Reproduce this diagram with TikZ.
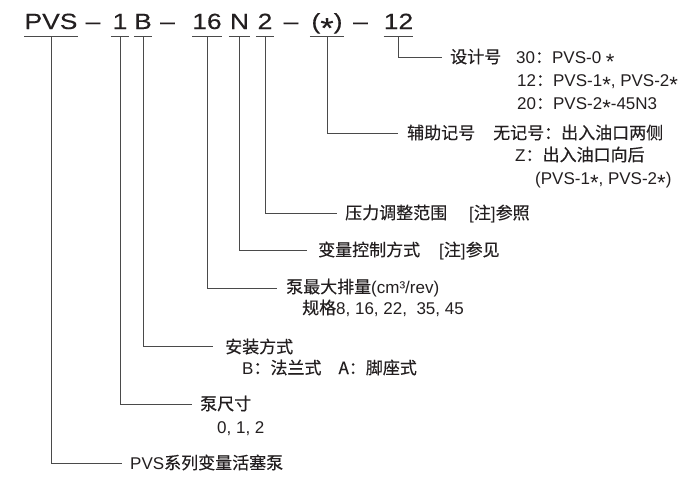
\documentclass[tikz,border=0pt]{standalone}
\usepackage{fontspec}
\setmainfont{Liberation Sans}
\newfontfamily\topfont[FakeStretch=1.2,FakeBold=0.3]{Liberation Sans}
\newfontfamily\cjk[FakeBold=0.3]{Noto Sans CJK SC}
\newcommand{\st}{\raisebox{-0.4em}{\scalebox{1.3}{*}}}
\definecolor{ink}{HTML}{231F20}
\definecolor{wirec}{HTML}{4A4A4A}
\begin{document}
\begin{tikzpicture}[x=1pt,y=-1pt,
  code/.style={anchor=base, inner xsep=0pt, inner ysep=0pt, text depth=7pt, text=ink,
    font=\fontsize{22}{22}\selectfont\topfont},
  lbl/.style={anchor=base west, inner sep=0pt, text=ink, font=\fontsize{17}{17}\selectfont},
  wire/.style={draw=wirec, line width=1pt}]
\fill[white] (0,0) rectangle (700,479);
\useasboundingbox (0,0) rectangle (700,479);
% code row
\node[code, minimum width=52pt] (cPVS) at (51,29) {PVS};
\node[code] (d1) at (93,29) {–};
\node[code, minimum width=18pt] (c1) at (120,29) {1};
\node[code, minimum width=18pt] (cB) at (143,29) {B};
\node[code] (d2) at (167.5,29) {–};
\node[code, minimum width=28pt] (c16) at (207,29) {16};
\node[code, minimum width=21pt] (cN) at (239.5,29) {N};
\node[code, minimum width=18pt] (c2) at (265,29) {2};
\node[code] (d3) at (291,29) {–};
\node[code, minimum width=34pt] (cS) at (327,29) {(\st)};
\node[code] (d4) at (360.5,29) {–};
\node[code, minimum width=29pt] (c12) at (398.5,29) {12};
\foreach \n in {cPVS,c1,cB,c16,cN,c2,cS,c12}
  \draw[wire] (\n.south west) -- (\n.south east);
% connector ends
\coordinate (e12) at (442,57);
\coordinate (eS) at (398,133);
\coordinate (e2) at (337,213);
\coordinate (eN) at (307,250);
\coordinate (e16) at (277,288);
\coordinate (eB) at (213,346);
\coordinate (e1) at (192,404);
\coordinate (ePVS) at (122,463);
\draw[wire] (c12.south) |- (e12);
\draw[wire] (cS.south) |- (eS);
\draw[wire] (c2.south) |- (e2);
\draw[wire] (cN.south) |- (eN);
\draw[wire] (c16.south) |- (e16);
\draw[wire] (cB.south) |- (eB);
\draw[wire] (c1.south) |- (e1);
\draw[wire] (cPVS.south) |- (ePVS);
% labels
\node[lbl] (l12) at (450,63) {\cjk 设计号};
\node[lbl] (l12a) at (516,63) {30{\cjk ：}PVS-0 \st};
\node[lbl] (l12b) at (517,86) {12{\cjk ：}PVS-1\st, PVS-2\st};
\node[lbl] (l12c) at (517,109) {20{\cjk ：}PVS-2\st-45N3};
\node[lbl] (lS) at (407,139) {\cjk 辅助记号};
\node[lbl] (lSa) at (493,139) {\cjk 无记号：出入油口两侧};
\node[lbl] (lSb) at (515,161) {Z{\cjk ：出入油口向后}};
\node[lbl] (lSc) at (535,184) {(PVS-1\st, PVS-2\st)};
\node[lbl] (l2) at (345,219) {\cjk 压力调整范围};
\node[lbl] (l2a) at (469,219) {[{\cjk 注}]{\cjk 参照}};
\node[lbl] (lN) at (318,256) {\cjk 变量控制方式};
\node[lbl] (lNa) at (439,256) {[{\cjk 注}]{\cjk 参见}};
\node[lbl] (l16) at (286,293) {{\cjk 泵最大排量}(cm³/rev)};
\node[lbl] (l16a) at (302,314) {{\cjk 规格}8, 16, 22,\ \ 35, 45};
\node[lbl] (lB) at (225,353) {\cjk 安装方式};
\node[lbl] (lBa) at (242,374) {B{\cjk ：法兰式　A：脚座式}};
\node[lbl] (l1) at (200,410) {\cjk 泵尺寸};
\node[lbl] (l1a) at (217,433) {0, 1, 2};
\node[lbl] (lPVS) at (130,469) {PVS{\cjk 系列变量活塞泵}};
\end{tikzpicture}
\end{document}
